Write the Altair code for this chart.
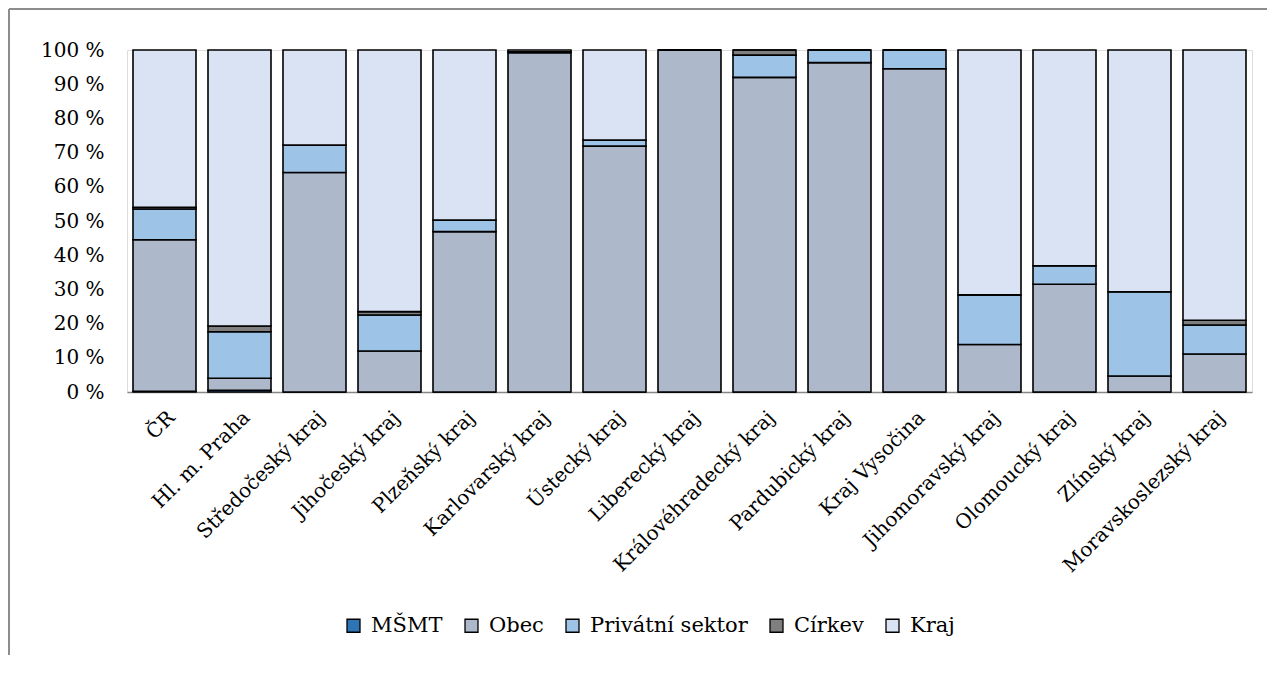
import altair as alt
import pandas as pd

categories = ["ČR", "Hl. m. Praha", "Středočeský kraj", "Jihočeský kraj", "Plzeňský kraj",
              "Karlovarský kraj", "Ústecký kraj", "Liberecký kraj", "Královéhradecký kraj",
              "Pardubický kraj", "Kraj Vysočina", "Jihomoravský kraj", "Olomoucký kraj",
              "Zlínský kraj", "Moravskoslezský kraj"]

series = ["MŠMT", "Obec", "Privátní sektor", "Církev", "Kraj"]
colors = ["#2E75B6", "#ADB9CA", "#9DC3E6", "#7F7F7F", "#DAE3F3"]

msmt = [0.2, 0.5, 0, 0, 0, 0, 0, 0, 0, 0, 0, 0, 0, 0, 0]
obec = [44.3, 3.5, 64.2, 12.0, 46.9, 99.2, 71.9, 100, 92.0, 96.3, 94.5, 13.9, 31.5, 4.7, 11.1]
privat = [9.0, 13.6, 8.0, 10.5, 3.4, 0.3, 1.8, 0, 6.5, 3.7, 5.5, 14.5, 5.4, 24.6, 8.5]
cirkev = [0.5, 1.7, 0, 1.0, 0, 0, 0, 0, 1.5, 0, 0, 0, 0, 0, 1.4]
kraj = [46.0, 80.7, 27.8, 76.5, 49.7, 0.5, 26.3, 0, 0, 0, 0, 71.6, 63.1, 70.7, 79.0]

y_ticks = [0, 10, 20, 30, 40, 50, 60, 70, 80, 90, 100]

rows = []
for s_i, (name, vals) in enumerate(zip(series, [msmt, obec, privat, cirkev, kraj])):
    for c, v in zip(categories, vals):
        rows.append({"kategorie": c, "zrizovatel": name, "podil": v, "poradi": s_i})
df = pd.DataFrame(rows)

font = "DejaVu Serif"

bars = alt.Chart(df).mark_bar(stroke="black", strokeWidth=1.6).encode(
    x=alt.X("kategorie:N", sort=categories, title=None,
            scale=alt.Scale(paddingInner=0.16, paddingOuter=0.08),
            axis=alt.Axis(labelAngle=-45, ticks=False, domainColor="#868686", domainWidth=1.5,
                          labelFont=font, labelFontSize=20, labelColor="black", labelPadding=15,
                          labelLimit=400)),
    y=alt.Y("podil:Q", stack="zero", title=None,
            scale=alt.Scale(domain=[0, 100], nice=False),
            axis=alt.Axis(values=y_ticks, labelExpr="datum.value + ' %'", grid=False, domain=False,
                          ticks=False, labelPadding=23, labelFont=font, labelFontSize=20,
                          labelColor="black")),
    color=alt.Color("zrizovatel:N", sort=series,
                    scale=alt.Scale(domain=series, range=colors),
                    legend=alt.Legend(title=None, orient="none", direction="horizontal",
                                      legendX=216, legendY=565, symbolType="square",
                                      symbolSize=169, symbolStrokeColor="black",
                                      symbolStrokeWidth=1.3, labelFont=font, labelFontSize=21,
                                      labelColor="black", labelOffset=7, columnPadding=18,
                                      labelLimit=400, columns=5)),
    order=alt.Order("poradi:Q", sort="ascending"),
)

border_left = alt.Chart(df).mark_rule(color="#8c8c8c", strokeWidth=1.5).encode(
    x=alt.value(-118), y=alt.value(-41), y2=alt.value(605))
border_top = alt.Chart(df).mark_rule(color="#8c8c8c", strokeWidth=1.5).encode(
    x=alt.value(-118), x2=alt.value(1140), y=alt.value(-41))

chart = alt.layer(bars, border_left, border_top).properties(
    width=1125, height=342,
    padding={"left": 119, "top": 42, "right": 15, "bottom": 270},
    autosize=alt.AutoSizeParams(type="none"),
).configure_view(stroke=None).configure(background="white")

chart.save("out.html", embed_options={"renderer": "svg", "actions": False})
